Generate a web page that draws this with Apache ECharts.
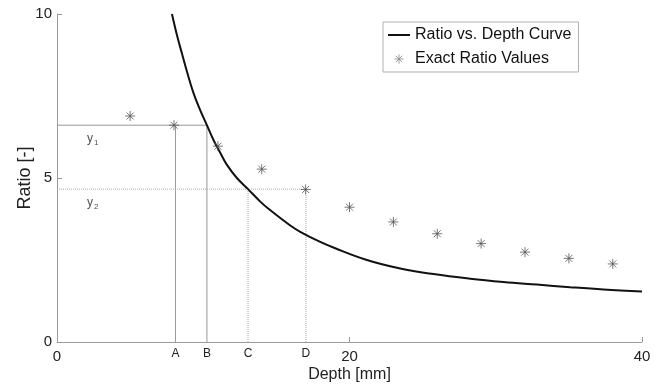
<!DOCTYPE html>
<html>
<head>
<meta charset="utf-8">
<script src="https://cdn.jsdelivr.net/npm/echarts@6/dist/echarts.min.js"></script>
<style>
html,body{margin:0;padding:0;background:#fff;}
#chart{width:659px;height:387px;}
</style>
</head>
<body>
<div id="chart"></div>
<script>
// Curve: Ratio vs. Depth
const curveDepth = [7.86, 8.20, 8.54, 8.89, 9.34, 9.79, 10.25, 10.70, 11.16, 11.62, 12.30, 13.06, 13.90, 14.46, 15.95, 16.63, 18.00, 18.90, 21.19, 23.47, 25.74, 28.25, 30.53, 32.81, 35.09, 37.36, 40.00];
const curveRatio = [10.00, 9.36, 8.80, 8.24, 7.58, 7.07, 6.61, 6.16, 5.77, 5.40, 5.00, 4.66, 4.28, 4.06, 3.55, 3.36, 3.05, 2.88, 2.50, 2.24, 2.07, 1.93, 1.83, 1.75, 1.67, 1.60, 1.54];
// Exact ratio values
const exactDepth = [5, 8, 11, 14, 17, 20, 23, 26, 29, 32, 35, 38];
const exactRatio = [6.89, 6.61, 5.97, 5.27, 4.65, 4.11, 3.66, 3.30, 3.00, 2.74, 2.55, 2.38];
// Marker positions
const markerNames = ['A', 'B', 'C', 'D'];
const markerDepth = [8.1, 10.25, 13.06, 17.02];
const y1 = 6.61;
const y2 = 4.66;
const xTicks = [0, 20, 40];
const yTicks = [0, 5, 10];

const FONT = "'Liberation Sans', Arial, Helvetica, sans-serif";
const STAR = 'path://M5,0L5,10M0,5L10,5M1.5,1.5L8.5,8.5M8.5,1.5L1.5,8.5';
const STAR_LEGEND = 'path://M-2.5,-2.5M12.5,12.5M5,0L5,10M0,5L10,5M1.5,1.5L8.5,8.5M8.5,1.5L1.5,8.5';
const LINE_LEGEND = 'path://M0,0L22,0L22,2L0,2Z';
const AXC = '#9a9a9a';

const curveData = curveDepth.map((d, i) => [d, curveRatio[i]]);
const exactData = exactDepth.map((d, i) => [d, exactRatio[i]]);

const refSolid = { type: 'line', silent: true, symbol: 'none', lineStyle: { color: '#999', width: 1 }, z: 1 };
const refDot = { type: 'line', silent: true, symbol: 'none', lineStyle: { color: '#aaa', width: 1, type: [1, 1] }, z: 1 };

const chart = echarts.init(document.getElementById('chart'), null, { renderer: 'canvas' });
chart.setOption({
  animation: false,
  backgroundColor: '#fff',
  textStyle: { fontFamily: FONT },
  grid: { left: 57, right: 17, top: 14, bottom: 45, containLabel: false, outerBoundsMode: 'none' },
  legend: {
    orient: 'vertical',
    left: 383, top: 22,
    padding: [5, 7, 5, 5],
    borderColor: '#b0b0b0', borderWidth: 1,
    itemWidth: 22, itemHeight: 14, itemGap: 8,
    symbolKeepAspect: true,
    textStyle: { fontFamily: FONT, fontSize: 16, color: '#111' },
    data: [
      { name: 'Ratio vs. Depth Curve', icon: LINE_LEGEND, itemStyle: { color: '#111' } },
      { name: 'Exact Ratio Values', icon: STAR_LEGEND, itemStyle: { color: '#888', borderColor: '#888', borderWidth: 1 } }
    ]
  },
  xAxis: [{
    type: 'value', min: xTicks[0], max: xTicks[2], interval: 20,
    name: 'Depth [mm]', nameLocation: 'middle', nameGap: 25, nameMoveOverlap: false,
    nameTextStyle: { fontFamily: FONT, fontSize: 16, color: '#222' },
    axisLine: { lineStyle: { color: AXC } },
    axisTick: { inside: true, length: 5, lineStyle: { color: AXC } },
    axisLabel: { fontFamily: FONT, fontSize: 15, color: '#222', margin: 7 },
    splitLine: { show: false }
  }, {
    type: 'value', min: xTicks[0], max: xTicks[2], position: 'bottom',
    axisLine: { show: false }, axisTick: { show: false }, splitLine: { show: false },
    axisLabel: {
      customValues: markerDepth,
      formatter: v => { const i = markerDepth.indexOf(v); return i >= 0 ? markerNames[i] : ''; },
      fontFamily: FONT, fontSize: 12, color: '#222', margin: 6
    }
  }],
  yAxis: {
    type: 'value', min: yTicks[0], max: yTicks[2], interval: 5,
    name: 'Ratio [-]', nameLocation: 'middle', nameGap: 23, nameRotate: 90, nameMoveOverlap: false,
    nameTextStyle: { fontFamily: FONT, fontSize: 18, color: '#222' },
    axisLine: { show: true, lineStyle: { color: AXC } },
    axisTick: { show: true, inside: true, length: 5, lineStyle: { color: AXC } },
    axisLabel: { fontFamily: FONT, fontSize: 15, color: '#222', margin: 5 },
    splitLine: { show: false }
  },
  series: [
    Object.assign({}, refSolid, { data: [[0, y1], [markerDepth[1], y1]] }),
    Object.assign({}, refSolid, { data: [[markerDepth[0], 0], [markerDepth[0], y1]] }),
    Object.assign({}, refSolid, { data: [[markerDepth[1], 0], [markerDepth[1], y1]] }),
    Object.assign({}, refDot, { data: [[0, y2], [markerDepth[3], y2]] }),
    Object.assign({}, refDot, { data: [[markerDepth[2], 0], [markerDepth[2], y2]] }),
    Object.assign({}, refDot, { data: [[markerDepth[3], 0], [markerDepth[3], y2]] }),
    {
      type: 'scatter', silent: true, symbolSize: 0, z: 2,
      data: [[2.45, y1, '1'], [2.45, y2, '2']],
      label: {
        show: true, position: 'bottom', distance: 5,
        formatter: p => '{a|y}{b|' + p.data[2] + '}',
        rich: {
          a: { fontFamily: FONT, fontSize: 12, color: '#222' },
          b: { fontFamily: FONT, fontSize: 8, color: '#222', padding: [9, 0, 0, 1] }
        }
      }
    },
    {
      name: 'Ratio vs. Depth Curve', type: 'line', data: curveData,
      symbol: 'none', smooth: 0.4, z: 5,
      lineStyle: { color: '#111', width: 2 }, itemStyle: { color: '#111' }
    },
    {
      name: 'Exact Ratio Values', type: 'scatter', data: exactData,
      symbol: STAR, symbolSize: 10, symbolKeepAspect: true, z: 6,
      itemStyle: { color: '#555', borderColor: '#555', borderWidth: 1 }
    }
  ]
});
</script>
</body>
</html>
